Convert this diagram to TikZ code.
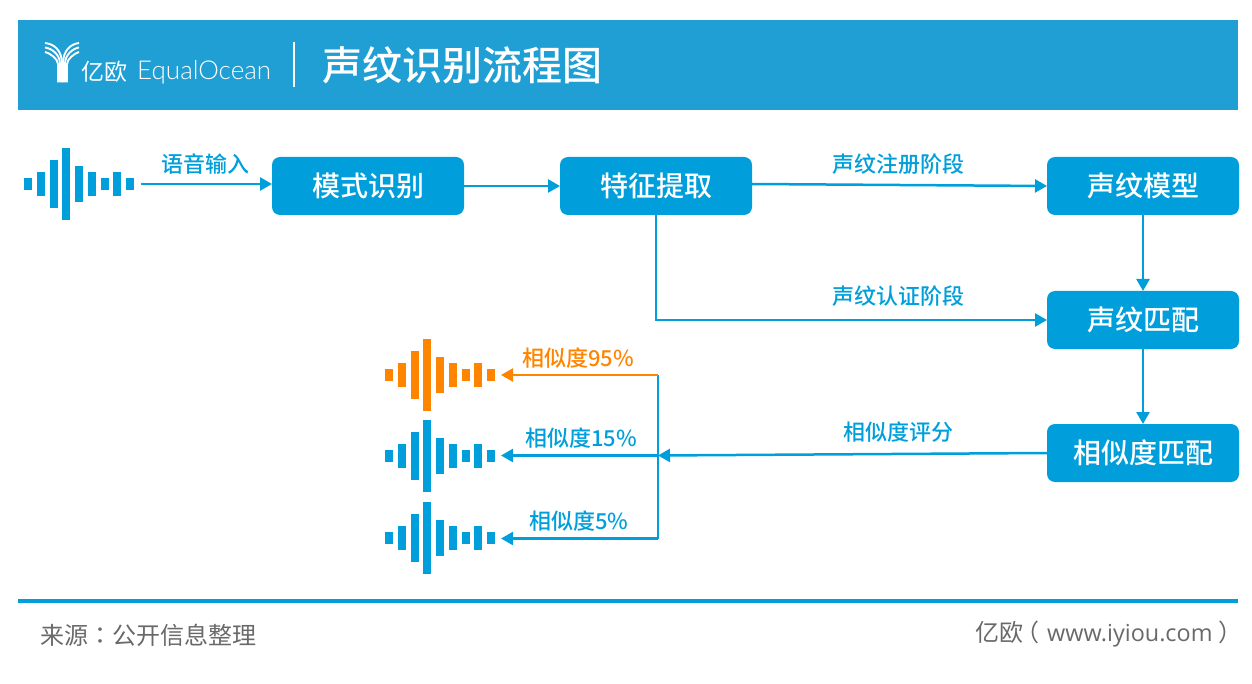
\documentclass[tikz,border=0pt]{standalone}
\usepackage{fontspec}
\setmainfont{Noto Sans CJK SC}[UprightFont=* Medium]
\newfontfamily\plainfont{Noto Sans CJK SC}
\newfontfamily\colonfont{Noto Sans CJK TC}
\newfontfamily\sitefont{Open Sans}
\newfontfamily\brandfont{Lato}[UprightFont=* Light]
\usetikzlibrary{positioning, arrows.meta}
\definecolor{headblue}{HTML}{209FD5}
\definecolor{flowblue}{HTML}{009FDB}
\definecolor{simorange}{HTML}{FF8400}
\definecolor{footgray}{HTML}{696969}
\newcommand{\drawwave}[3]{%
    \foreach \i/\h in {0/6,1/12,2/24,3/36,4/18,5/12,6/6,7/12,8/6}
        \fill[#1] ({#2+\i*12.75},{#3-\h}) rectangle ({#2+\i*12.75+8},{#3+\h});
}

\begin{document}
\begin{tikzpicture}[
        x=1pt, y=-1pt,
        box/.style={rectangle, fill=flowblue, text=white, rounded corners=8pt, minimum width=192pt, minimum height=58pt, align=center, inner sep=0pt, outer sep=0pt, font=\fontsize{28}{32}\selectfont},
        arrow/.style={-{Triangle[length=12pt,width=13pt]}, line width=2.5pt, draw=flowblue},
        hopline/.style={line width=2.5pt, draw=flowblue},
        label/.style={text=flowblue, inner sep=0pt, font=\fontsize{22}{26}\selectfont},
        foot/.style={text=footgray, inner sep=0pt, font=\plainfont\fontsize{24}{28}\selectfont},
        logoline/.style={draw=white, line width=1.9pt}
        ]
        \useasboundingbox (0,0) rectangle (1252,684);

        % header
        \fill[headblue] (18,20) rectangle (1238,110);
        \foreach \t/\s in {43/62,47.5/60,52/58} {
            \draw[logoline] (\s,82.5) -- (\s,64) .. controls (\s,{\t+7}) and ({\s-8},{\t+1}) .. (45,\t);
            \draw[logoline] ({125-\s},82.5) -- ({125-\s},64) .. controls ({125-\s},{\t+7}) and ({133-\s},{\t+1}) .. (79,\t);
        }
        \node[text=white, inner sep=0pt, anchor=west, font=\plainfont\fontsize{23}{28}\selectfont] (brandcn) at (81,72) {亿欧};
        \node[text=white, inner sep=0pt, anchor=west, font=\brandfont\fontsize{26}{28}\selectfont] (brand) at (137,72) {EqualOcean};
        \draw[white, line width=1.2pt] (294,42) -- (294,87);
        \node[text=white, inner sep=0pt, anchor=west, font=\fontsize{40}{46}\selectfont] (title) at (322,65) {声纹识别流程图};

        % boxes
        \node[box] at (368,186) (recog) {模式识别};
        \node[box, right=96pt of recog] (feature) {特征提取};
        \node[box, right=295pt of feature] (vmodel) {声纹模型};
        \node[box, below=76pt of vmodel] (vmatch) {声纹匹配};
        \node[box, below=75pt of vmatch] (simmatch) {相似度匹配};

        % waves
        \drawwave{flowblue}{24}{184}
        \drawwave{simorange}{385}{375}
        \drawwave{flowblue}{385}{456}
        \drawwave{flowblue}{385}{538}

        \coordinate (wavein) at (141,184);
        \coordinate (waveA) at (501,375);
        \coordinate (waveB) at (501,455.5);
        \coordinate (waveC) at (501,538.5);
        \coordinate (splitA) at (658,375);
        \coordinate (splitB) at (658,455.5);
        \coordinate (splitC) at (658,538.5);

        \draw[arrow] (wavein) -- (recog.west |- wavein);
        \draw[arrow] (recog) -- (feature);
        \draw[arrow] (feature.east) ++(0,-2) -- (vmodel.west);
        \draw[arrow] (feature.south) |- (vmatch.west);
        \draw[arrow] (vmodel) -- (vmatch);
        \draw[arrow] (vmatch) -- (simmatch);
        \draw[arrow] (simmatch.west) -- (splitB);
        \draw[hopline] (splitA) -- (splitC);
        \draw[arrow, draw=simorange] (splitA) -- (waveA);
        \draw[arrow] (splitB) -- (waveB);
        \draw[arrow] (splitC) -- (waveC);

        % labels
        \node[label] (inputlab) at (205.5,164) {语音输入};
        \node[label] (enrollab) at (898.5,164) {声纹注册阶段};
        \node[label] (verifylab) at (898.5,296) {声纹认证阶段};
        \node[label] (scorelab) at (898,432) {相似度评分};
        \node[label, text=simorange] (lab95) at (578,358) {相似度95\%};
        \node[label] (lab15) at (581,438) {相似度15\%};
        \node[label] (lab5) at (579,521) {相似度5\%};

        % footer
        \draw[flowblue, line width=4pt] (18,600.5) -- (1238,600.5);
        \node[foot, anchor=west] (source) at (40,635) {来源{\colonfont：}公开信息整理};
        \node[foot, anchor=west] (site) at (975,634) {亿欧\hspace{-8pt}（\hspace{8pt}{\sitefont\fontsize{23.4}{28}\selectfont www.iyiou.com}\hspace{6pt}）};
    \end{tikzpicture}
\end{document}
